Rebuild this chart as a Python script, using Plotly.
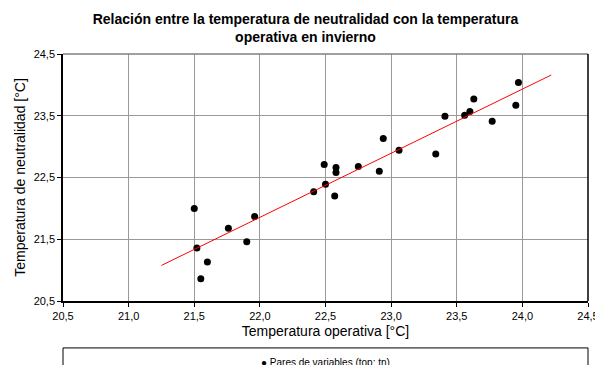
import numpy as np
import plotly.graph_objects as go

# Data
top = [21.50, 21.52, 21.55, 21.60, 21.76, 21.90, 21.96, 22.41, 22.49, 22.50,
       22.57, 22.58, 22.58, 22.75, 22.91, 22.94, 23.06, 23.34, 23.41, 23.56,
       23.60, 23.63, 23.77, 23.95, 23.97]
tn = [22.00, 21.36, 20.86, 21.13, 21.68, 21.46, 21.87, 22.27, 22.71, 22.39,
      22.20, 22.66, 22.58, 22.68, 22.60, 23.13, 22.94, 22.88, 23.49, 23.51,
      23.57, 23.77, 23.41, 23.67, 24.04]
trend_x = [21.25, 24.22]

x_ticks = [20.5, 21.0, 21.5, 22.0, 22.5, 23.0, 23.5, 24.0, 24.5]
x_tick_labels = ["20,5", "21,0", "21,5", "22,0", "22,5", "23,0", "23,5", "24,0", "24,5"]
y_ticks = [20.5, 21.5, 22.5, 23.5, 24.5]
y_tick_labels = ["20,5", "21,5", "22,5", "23,5", "24,5"]
series_name = "Pares de variables (top; tn)"

slope, intercept = np.polyfit(top, tn, 1)
trend_y = [slope * v + intercept for v in trend_x]

FONT = "Liberation Sans, Arial, sans-serif"

fig = go.Figure()
fig.add_trace(go.Scatter(
    x=top, y=tn, mode="markers", name=series_name, showlegend=False,
    marker=dict(color="black", size=7),
))
fig.add_trace(go.Scatter(
    x=trend_x, y=trend_y, mode="lines", showlegend=False,
    line=dict(color="#ff0000", width=1),
))

# page body has an 8px margin, so the figure is sized/offset to compensate
fig.update_layout(
    width=595, height=357,
    margin=dict(l=55, r=15, t=46, b=64, autoexpand=False),
    paper_bgcolor="white", plot_bgcolor="white",
    font=dict(family=FONT, color="black"),
    title=dict(
        text="<b>Relación entre la temperatura de neutralidad con la temperatura<br>operativa en invierno</b>",
        x=0.5, xanchor="center", y=0.955, yanchor="top",
        font=dict(size=14, family=FONT, color="black"),
    ),
    xaxis=dict(
        range=[20.5, 24.5], tickvals=x_ticks, ticktext=x_tick_labels,
        showgrid=True, gridcolor="#999999", gridwidth=1,
        showline=True, linecolor="black", linewidth=1.5,
        ticks="outside", ticklen=4, tickcolor="black",
        tickfont=dict(size=11), zeroline=False, automargin=False,
        title=dict(text="Temperatura operativa [°C]", font=dict(size=14), standoff=5),
    ),
    yaxis=dict(
        range=[20.5, 24.5], tickvals=y_ticks, ticktext=y_tick_labels,
        showgrid=True, gridcolor="#999999", gridwidth=1,
        showline=True, linecolor="black", linewidth=1.5,
        ticks="outside", ticklen=4, tickcolor="black",
        tickfont=dict(size=11), zeroline=False, automargin=False,
        title=dict(text="Temperatura de neutralidad [°C]", font=dict(size=14), standoff=5),
    ),
    shapes=[
        dict(type="line", xref="paper", yref="paper", x0=0, x1=1, y0=1, y1=1,
             line=dict(color="#808080", width=1.5)),
        dict(type="line", xref="paper", yref="paper", x0=1, x1=1, y0=0, y1=1,
             line=dict(color="black", width=1.5)),
        dict(type="rect", xref="paper", yref="paper", x0=0, x1=1, y0=-0.19, y1=-0.45,
             line=dict(color="black", width=1), fillcolor="rgba(0,0,0,0)"),
    ],
    annotations=[
        dict(xref="paper", yref="paper", x=0.5, y=-0.2476, xanchor="center", yanchor="middle",
             text="● " + series_name, showarrow=False, font=dict(size=10, color="black")),
    ],
)

fig.write_html("out.html")
